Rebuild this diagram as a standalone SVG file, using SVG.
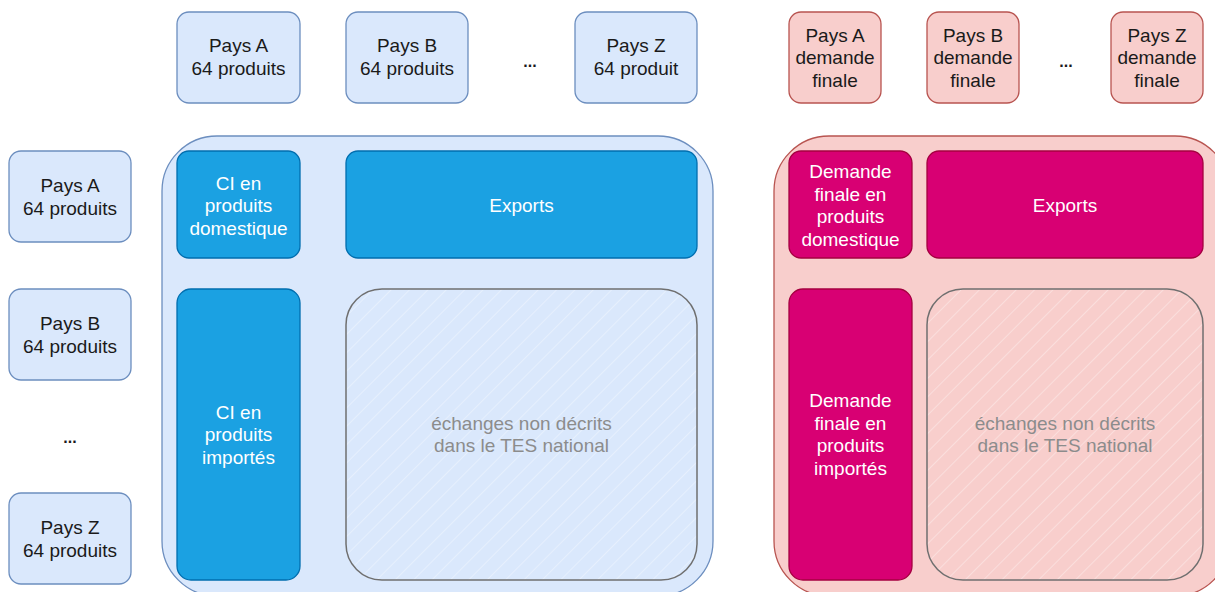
<svg xmlns="http://www.w3.org/2000/svg" width="1215" height="592" viewBox="0 0 1215 592">
<style>
text{font-family:"Liberation Sans",Arial,sans-serif;font-size:19px;text-anchor:middle}
.dark{fill:#1a1a1a}
.white{fill:#ffffff}
.gray{fill:#8c8c8c}
.bl{fill:#dae8fc;stroke:#6c8ebf;stroke-width:1.3}
.rl{fill:#f8cecc;stroke:#b85450;stroke-width:1.3}
.bd{fill:#1ba1e2;stroke:#006eaf;stroke-width:1.3}
.rd{fill:#d80073;stroke:#a50040;stroke-width:1.3}
.ho{fill:url(#hatch);stroke:#6f6f6f;stroke-width:1.5}
</style>
<defs>
<pattern id="hatch" patternUnits="userSpaceOnUse" width="13" height="13" patternTransform="rotate(45)">
<line x1="0" y1="0" x2="0" y2="13" stroke="#ffffff" stroke-opacity="0.55" stroke-width="1.2"/>
</pattern>
</defs>
<rect width="1215" height="592" fill="#ffffff"/>
<g id="container-blue"><rect class="bl" x="162" y="136" width="551" height="460" rx="55"/></g>
<g id="container-red"><rect class="rl" x="774" y="136" width="456" height="460" rx="55"/></g>

<g id="top-a"><rect class="bl" x="177" y="12" width="123" height="91" rx="12"/><text class="dark" x="238.5" y="52">Pays A</text><text class="dark" x="238.5" y="75">64 produits</text></g>
<g id="top-b"><rect class="bl" x="346" y="12" width="122" height="91" rx="12"/><text class="dark" x="407" y="52">Pays B</text><text class="dark" x="407" y="75">64 produits</text></g>
<g id="top-dots"><text class="dark" x="530" y="67" style="font-weight:bold;font-size:16px">...</text></g>
<g id="top-z"><rect class="bl" x="575" y="12" width="122" height="91" rx="12"/><text class="dark" x="636" y="52">Pays Z</text><text class="dark" x="636" y="75">64 produit</text></g>

<g id="red-a"><rect class="rl" x="789" y="12" width="92" height="91" rx="12"/><text class="dark" x="835" y="41.5">Pays A</text><text class="dark" x="835" y="64">demande</text><text class="dark" x="835" y="86.5">finale</text></g>
<g id="red-b"><rect class="rl" x="927" y="12" width="92" height="91" rx="12"/><text class="dark" x="973" y="41.5">Pays B</text><text class="dark" x="973" y="64">demande</text><text class="dark" x="973" y="86.5">finale</text></g>
<g id="red-dots"><text class="dark" x="1066" y="67" style="font-weight:bold;font-size:16px">...</text></g>
<g id="red-z"><rect class="rl" x="1111" y="12" width="92" height="91" rx="12"/><text class="dark" x="1157" y="41.5">Pays Z</text><text class="dark" x="1157" y="64">demande</text><text class="dark" x="1157" y="86.5">finale</text></g>

<g id="left-a"><rect class="bl" x="9" y="151" width="122" height="91" rx="12"/><text class="dark" x="70" y="191.5">Pays A</text><text class="dark" x="70" y="214.5">64 produits</text></g>
<g id="left-b"><rect class="bl" x="9" y="289" width="122" height="91" rx="12"/><text class="dark" x="70" y="329.5">Pays B</text><text class="dark" x="70" y="352.5">64 produits</text></g>
<g id="left-dots"><text class="dark" x="70" y="443" style="font-weight:bold;font-size:16px">...</text></g>
<g id="left-z"><rect class="bl" x="9" y="493" width="122" height="91" rx="12"/><text class="dark" x="70" y="533.5">Pays Z</text><text class="dark" x="70" y="556.5">64 produits</text></g>

<g id="ci-dom"><rect class="bd" x="177" y="151" width="123" height="107" rx="12"/><text class="white" x="238.5" y="189.5">CI en</text><text class="white" x="238.5" y="212">produits</text><text class="white" x="238.5" y="234.5">domestique</text></g>
<g id="exports-blue"><rect class="bd" x="346" y="151" width="351" height="107" rx="12"/><text class="white" x="521.5" y="211.5">Exports</text></g>
<g id="ci-imp"><rect class="bd" x="177" y="289" width="123" height="291" rx="14"/><text class="white" x="238.5" y="418.5">CI en</text><text class="white" x="238.5" y="441">produits</text><text class="white" x="238.5" y="463.5">importés</text></g>
<g id="hatch-blue"><rect class="ho" x="346" y="289" width="351" height="291" rx="36"/><text class="gray" x="521.5" y="429.5">échanges non décrits</text><text class="gray" x="521.5" y="452">dans le TES national</text></g>

<g id="df-dom"><rect class="rd" x="789" y="151" width="123" height="107" rx="12"/><text class="white" x="850.5" y="178">Demande</text><text class="white" x="850.5" y="200.5">finale en</text><text class="white" x="850.5" y="223">produits</text><text class="white" x="850.5" y="245.5">domestique</text></g>
<g id="exports-red"><rect class="rd" x="927" y="151" width="276" height="107" rx="12"/><text class="white" x="1065" y="211.5">Exports</text></g>
<g id="df-imp"><rect class="rd" x="789" y="289" width="123" height="291" rx="14"/><text class="white" x="850.5" y="407">Demande</text><text class="white" x="850.5" y="429.5">finale en</text><text class="white" x="850.5" y="452">produits</text><text class="white" x="850.5" y="474.5">importés</text></g>
<g id="hatch-red"><rect class="ho" x="927" y="289" width="276" height="291" rx="36"/><text class="gray" x="1065" y="429.5">échanges non décrits</text><text class="gray" x="1065" y="452">dans le TES national</text></g>
<g id="connectors"></g>
</svg>
